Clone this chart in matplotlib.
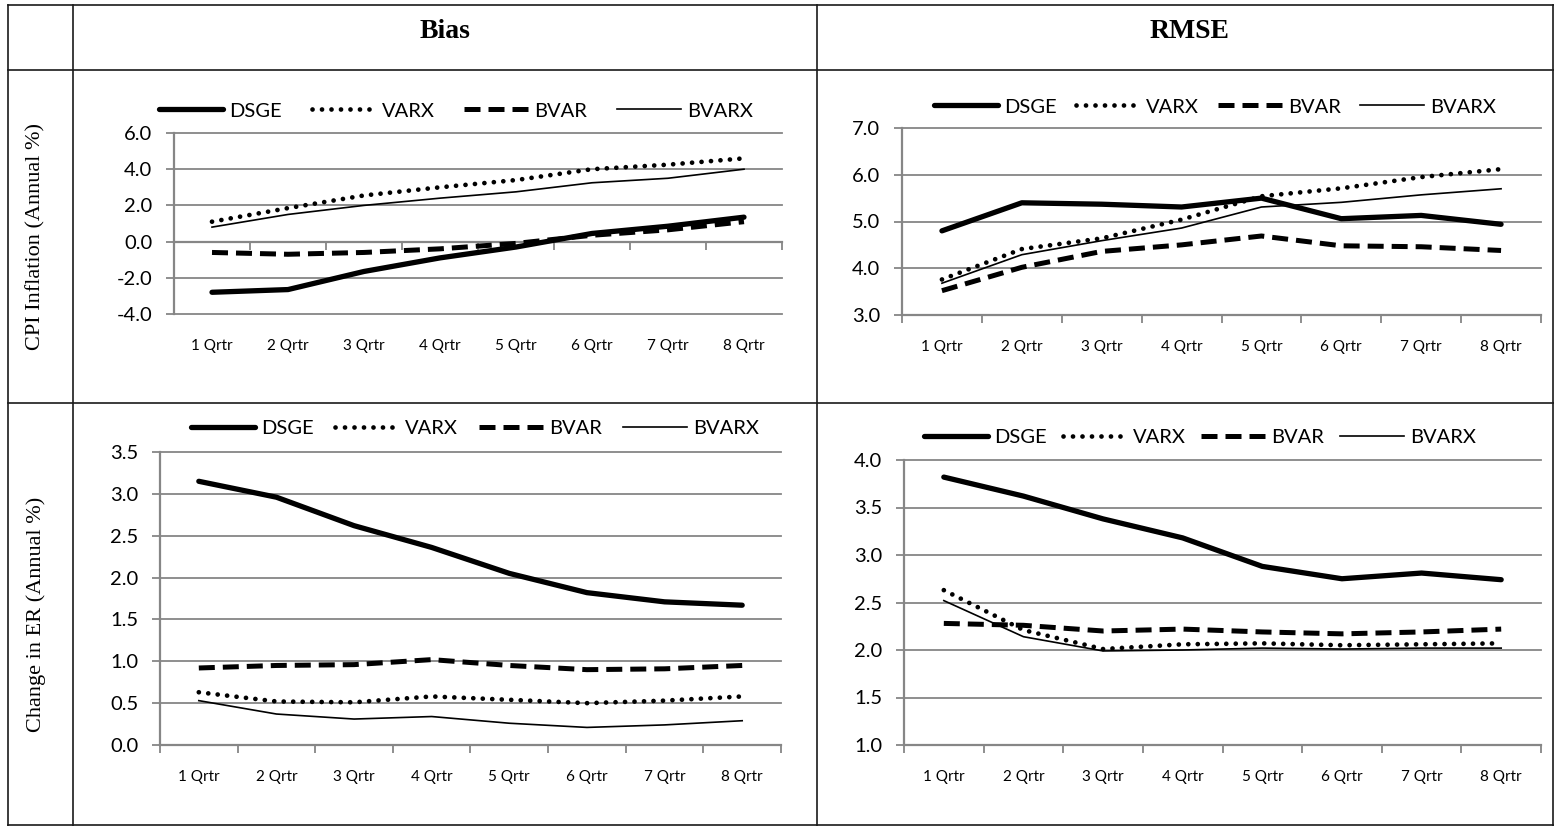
import matplotlib
matplotlib.use("Agg")
import matplotlib.pyplot as plt
import numpy as np
from matplotlib.lines import Line2D

W, H = 1554, 826

QUARTERS = ["1 Qrtr", "2 Qrtr", "3 Qrtr", "4 Qrtr", "5 Qrtr", "6 Qrtr", "7 Qrtr", "8 Qrtr"]
MODELS = ["DSGE", "VARX", "BVAR", "BVARX"]

# CPI inflation, bias
CPI_BIAS_DSGE = [-2.8, -2.65, -1.65, -0.9, -0.3, 0.45, 0.85, 1.35]
CPI_BIAS_VARX = [1.1, 1.85, 2.55, 3.0, 3.4, 4.0, 4.25, 4.6]
CPI_BIAS_BVAR = [-0.6, -0.7, -0.6, -0.4, -0.1, 0.35, 0.65, 1.1]
CPI_BIAS_BVARX = [0.8, 1.5, 2.0, 2.4, 2.75, 3.25, 3.5, 4.0]

# CPI inflation, RMSE
CPI_RMSE_DSGE = [4.8, 5.4, 5.37, 5.31, 5.5, 5.06, 5.13, 4.94]
CPI_RMSE_VARX = [3.76, 4.41, 4.64, 5.04, 5.54, 5.71, 5.95, 6.12]
CPI_RMSE_BVAR = [3.52, 4.02, 4.36, 4.5, 4.69, 4.48, 4.46, 4.38]
CPI_RMSE_BVARX = [3.68, 4.29, 4.59, 4.86, 5.31, 5.41, 5.57, 5.7]

# change in ER, bias
ER_BIAS_DSGE = [3.15, 2.96, 2.62, 2.36, 2.05, 1.82, 1.71, 1.67]
ER_BIAS_VARX = [0.63, 0.52, 0.51, 0.58, 0.54, 0.5, 0.53, 0.58]
ER_BIAS_BVAR = [0.92, 0.95, 0.96, 1.02, 0.95, 0.9, 0.91, 0.95]
ER_BIAS_BVARX = [0.53, 0.37, 0.31, 0.34, 0.26, 0.21, 0.24, 0.29]

# change in ER, RMSE
ER_RMSE_DSGE = [3.82, 3.62, 3.38, 3.18, 2.88, 2.75, 2.81, 2.74]
ER_RMSE_VARX = [2.63, 2.21, 2.01, 2.06, 2.07, 2.05, 2.06, 2.07]
ER_RMSE_BVAR = [2.28, 2.26, 2.2, 2.22, 2.19, 2.17, 2.19, 2.22]
ER_RMSE_BVARX = [2.52, 2.14, 1.99, 2.0, 2.02, 2.01, 2.02, 2.02]

GRID = "#868686"
SANS = ["Lato", "DejaVu Sans"]
SERIF = ["Liberation Serif", "DejaVu Serif"]

STYLES = {
    "DSGE": dict(lw=3.8, ls="-", solid_capstyle="round"),
    "VARX": dict(lw=3.4, ls=(0, (0.01, 2.0)), dash_capstyle="round"),
    "BVAR": dict(lw=3.6, ls=(0, (3.2, 1.6)), dash_capstyle="butt"),
    "BVARX": dict(lw=1.2, ls="-"),
}


def fx(x):
    return x / W


def fy(y):
    return 1 - y / H


def panel(fig, box, series, ylim, step, legend_xy, colspace_px):
    left, top, right, bottom = box
    ax = fig.add_axes([fx(left), fy(bottom), (right - left) / W, (bottom - top) / H])
    x = np.arange(1, len(QUARTERS) + 1)
    for name, vals in zip(MODELS, series):
        ax.plot(x, vals, color="black", label=name, **STYLES[name])

    ax.set_xlim(0.5, len(QUARTERS) + 0.5)
    ax.set_ylim(*ylim)
    ax.set_yticks(np.arange(ylim[0], ylim[1] + step / 2, step))
    ax.yaxis.set_major_formatter(matplotlib.ticker.FormatStrFormatter("%.1f"))
    ax.set_xticks(x)
    ax.set_xticklabels(QUARTERS, fontfamily=SANS, fontsize=11)
    ax.tick_params(axis="x", length=0, pad=18)
    ax.tick_params(axis="y", length=5.5, width=1.3, color=GRID, pad=10, labelsize=14.5)
    for lab in ax.get_yticklabels():
        lab.set_fontfamily(SANS)

    ax.yaxis.grid(True, color=GRID, lw=1.3)
    for gl in ax.get_ygridlines():
        gl.set_clip_on(False)
    ax.set_axisbelow(True)
    for side in ["top", "right", "bottom"]:
        ax.spines[side].set_visible(False)
    ax.spines["left"].set_color(GRID)
    ax.spines["left"].set_linewidth(1.6)

    # category axis crosses at zero when zero is inside the range
    cross = 0 if ylim[0] < 0 < ylim[1] else ylim[0]
    sec = ax.secondary_xaxis((cross - ylim[0]) / (ylim[1] - ylim[0]))
    sec.set_xticks(np.arange(0.5, len(QUARTERS) + 1, 1))
    sec.tick_params(length=5.5, width=1.3, color=GRID, labelbottom=False)
    sec.spines["bottom"].set_color(GRID)
    sec.spines["bottom"].set_linewidth(1.6)

    fs_px = 14.5 * 100 / 72
    ax.legend(
        loc="center",
        bbox_to_anchor=(fx(legend_xy[0]), fy(legend_xy[1])),
        bbox_transform=fig.transFigure,
        ncol=4,
        frameon=False,
        prop={"family": SANS, "size": 14.5},
        handlelength=64 / fs_px,
        handletextpad=6 / fs_px,
        columnspacing=colspace_px / fs_px,
        borderpad=0,
        borderaxespad=0,
    )
    return ax


def main():
    fig = plt.figure(figsize=(W / 100, H / 100), dpi=100)

    # table grid
    lines = [
        ((8, 8), (5, 826)),
        ((73, 73), (5, 826)),
        ((817, 817), (5, 826)),
        ((1553, 1553), (5, 826)),
        ((8, 1554), (5, 5)),
        ((8, 1554), (70, 70)),
        ((8, 1554), (403, 403)),
        ((8, 1554), (825, 825)),
    ]
    for xs, ys in lines:
        fig.add_artist(Line2D([fx(v) for v in xs], [fy(v) for v in ys],
                              transform=fig.transFigure, color="#1a1a1a", lw=1.2))

    fig.text(fx(445), fy(31), "Bias", ha="center", va="center",
             fontfamily=SERIF, fontweight="bold", fontsize=20)
    fig.text(fx(1189), fy(31), "RMSE", ha="center", va="center",
             fontfamily=SERIF, fontweight="bold", fontsize=20)
    fig.text(fx(36), fy(237), "CPI Inflation (Annual %)", ha="center", va="center",
             rotation=90, fontfamily=SERIF, fontsize=16)
    fig.text(fx(36), fy(614), "Change in ER (Annual %)", ha="center", va="center",
             rotation=90, fontfamily=SERIF, fontsize=16)

    panel(fig, (174, 133, 782, 314),
          [CPI_BIAS_DSGE, CPI_BIAS_VARX, CPI_BIAS_BVAR, CPI_BIAS_BVARX],
          (-4, 6), 2, (456, 111), 30)
    panel(fig, (902, 128, 1541, 315),
          [CPI_RMSE_DSGE, CPI_RMSE_VARX, CPI_RMSE_BVAR, CPI_RMSE_BVARX],
          (3, 7), 1, (1215, 107), 19)
    panel(fig, (160, 452, 781, 745),
          [ER_BIAS_DSGE, ER_BIAS_VARX, ER_BIAS_BVAR, ER_BIAS_BVARX],
          (0, 3.5), 0.5, (475, 428), 21)
    panel(fig, (904, 460, 1541, 745),
          [ER_RMSE_DSGE, ER_RMSE_VARX, ER_RMSE_BVAR, ER_RMSE_BVARX],
          (1, 4), 0.5, (1200, 437), 16)

    fig.savefig("out.png", dpi=100, facecolor="white")


if __name__ == "__main__":
    main()
